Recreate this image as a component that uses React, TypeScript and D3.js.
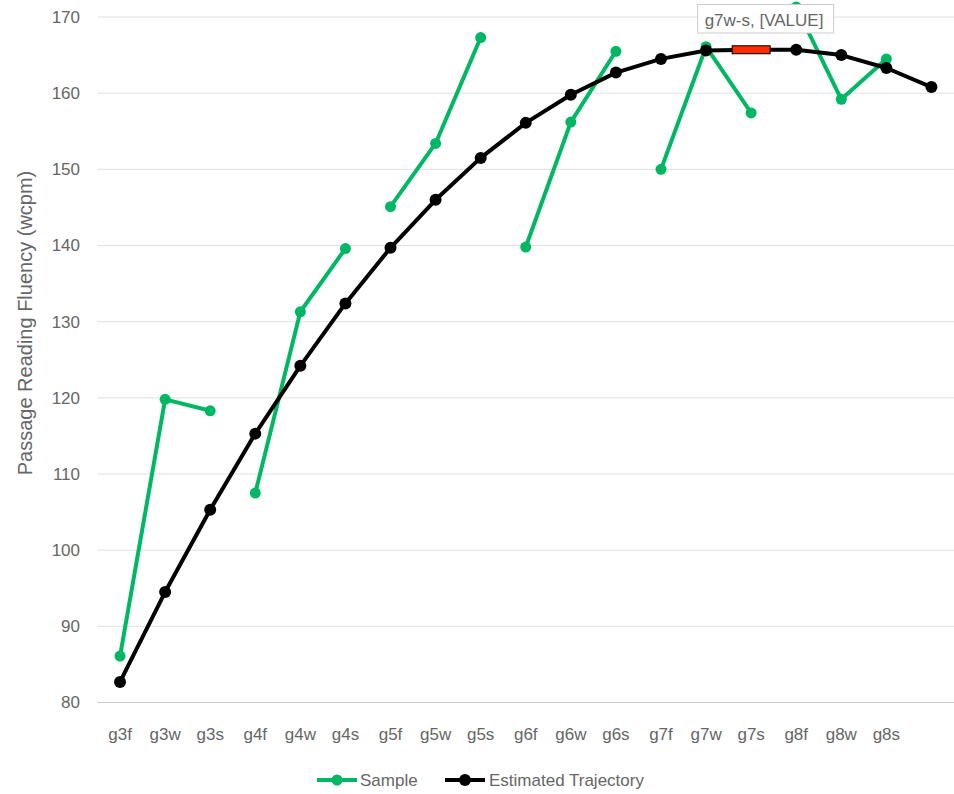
import React from "react";
import * as d3 from "d3";

const categories = ["g3f","g3w","g3s","g4f","g4w","g4s","g5f","g5w","g5s","g6f","g6w","g6s","g7f","g7w","g7s","g8f","g8w","g8s",""];
const sampleValues: (number | null)[] = [86.1,119.8,118.3,107.5,131.3,139.6,145.1,153.4,167.3,139.8,156.2,165.5,150.0,166.1,157.4,171.3,159.2,164.5,null];
const estimateValues = [82.7,94.5,105.3,115.3,124.2,132.4,139.7,146.0,151.5,156.1,159.8,162.7,164.5,165.6,165.7,165.7,165.0,163.3,160.8];
const yTicks = [80,90,100,110,120,130,140,150,160,170];
const seriesNames = ["Sample", "Estimated Trajectory"];
const tooltipText = "g7w-s, [VALUE]";
const highlightCategory = "g7s";

const W = 954, H = 794;
const GREEN = "#00B864";
const FONT = "Arial, 'Liberation Sans', sans-serif";

export default function App() {
  const x = d3.scaleBand<string>().domain(categories).range([97.5, 954]);
  const cx = (c: string) => (x(c) as number) + x.bandwidth() / 2;
  const y = d3.scaleLinear().domain([80, 170]).range([702.5, 17]);

  const line = d3.line<[number, number]>().x(d => d[0]).y(d => d[1]);

  const groups: Record<string, [number, number][]> = {};
  categories.forEach((c, i) => {
    const v = sampleValues[i];
    if (v == null || !c) return;
    const g = c.slice(0, 2);
    (groups[g] = groups[g] || []).push([cx(c), y(v)]);
  });
  const estPts: [number, number][] = categories.map((c, i) => [cx(c), y(estimateValues[i])]);
  const hi = categories.indexOf(highlightCategory);

  return (
    <div style={{ position: "absolute", left: 0, top: 0 }}>
      <svg width={W} height={H} style={{ display: "block", fontFamily: FONT }}>
        <rect width={W} height={H} fill="#fff" />
        {yTicks.map(t => (
          <g key={t}>
            <line x1={97.5} x2={954} y1={y(t)} y2={y(t)} stroke={t === 80 ? "#cccccc" : "#e0e0e0"} strokeWidth={1} />
            <text x={80} y={y(t)} dy="0.35em" textAnchor="end" fontSize={17} fill="#666">{t}</text>
          </g>
        ))}
        <text transform={`translate(32,323) rotate(-90)`} textAnchor="middle" fontSize={20} fill="#666">
          Passage Reading Fluency (wcpm)
        </text>
        {categories.map(c => c && (
          <text key={c} x={cx(c)} y={734} dy="0.35em" textAnchor="middle" fontSize={17} fill="#666">{c}</text>
        ))}
        {Object.keys(groups).map(g => (
          <path key={g} d={line(groups[g]) as string} fill="none" stroke={GREEN} strokeWidth={4} strokeLinejoin="round" />
        ))}
        {Object.keys(groups).map(g => groups[g].map((p, i) => (
          <circle key={g + i} cx={p[0]} cy={p[1]} r={5.5} fill={GREEN} />
        )))}
        <path d={line(estPts) as string} fill="none" stroke="#000" strokeWidth={4} strokeLinejoin="round" />
        {estPts.map((p, i) => i === hi ? null : (
          <circle key={i} cx={p[0]} cy={p[1]} r={6} fill="#000" />
        ))}
        {hi >= 0 && (
          <rect x={estPts[hi][0] - 19} y={estPts[hi][1] - 4} width={38} height={8} fill="#ff2a00" stroke="#000" strokeWidth={1} />
        )}
        {hi >= 0 && (
          <g transform={`translate(${estPts[hi][0] - 53.5},4.5)`}>
            <rect x={0} y={0} width={136} height={28.5} fill="#fff" stroke="#cccccc" strokeWidth={1} />
            <text x={7} y={21} fontSize={17} fill="#666">{tooltipText}</text>
          </g>
        )}
        <g transform="translate(317,780)">
          <line x1={0} x2={40} y1={0} y2={0} stroke={GREEN} strokeWidth={4} />
          <circle cx={20} cy={0} r={5.5} fill={GREEN} />
          <text x={43} y={0} dy="0.35em" fontSize={17} fill="#666">{seriesNames[0]}</text>
          <line x1={128} x2={168} y1={0} y2={0} stroke="#000" strokeWidth={4} />
          <circle cx={148} cy={0} r={6} fill="#000" />
          <text x={172} y={0} dy="0.35em" fontSize={17} fill="#666">{seriesNames[1]}</text>
        </g>
      </svg>
    </div>
  );
}
